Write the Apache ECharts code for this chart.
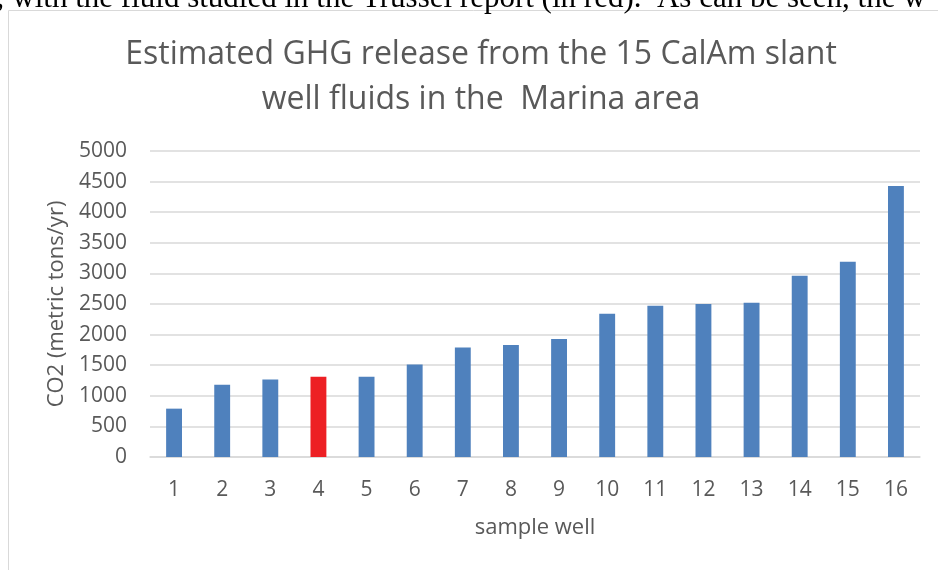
<!DOCTYPE html>
<html>
<head>
<meta charset="utf-8">
<script src="https://cdn.jsdelivr.net/npm/echarts@6/dist/echarts.min.js"></script>
<style>
  html, body { margin: 0; padding: 0; background: #fff; }
  #chart { width: 938px; height: 570px; }
</style>
</head>
<body>
<div id="chart"></div>
<script>
// sample wells and estimated CO2 release (metric tons/yr)
const wells = ["1", "2", "3", "4", "5", "6", "7", "8", "9", "10", "11", "12", "13", "14", "15", "16"];
const co2 = [790, 1180, 1265, 1310, 1310, 1510, 1790, 1830, 1930, 2340, 2470, 2500, 2520, 2960, 3190, 4430];
const highlighted = "4"; // Trussel report fluid, drawn in red

const titleLines = ["Estimated GHG release from the 15 CalAm slant", "well fluids in the  Marina area"];
const docLine = "; with the fluid studied in the Trussel report (in red).  As can be seen, the w";

const gray = "#595959";
const font = "Open Sans";

const chart = echarts.init(document.getElementById("chart"));

const option = {
  animation: false,
  textStyle: { fontFamily: font },
  title: {
    text: titleLines.join("\n"),
    left: 476,
    top: 27,
    textAlign: "center",
    textStyle: { fontFamily: font, fontSize: 32, fontWeight: "normal", color: gray, lineHeight: 45 },
  },
  graphic: [
    {
      type: "rect",
      shape: { x: 8.5, y: 10.5, width: 960, height: 600 },
      style: { fill: "none", stroke: "#d9d9d9", lineWidth: 1 },
      silent: true,
    },
    {
      // tail of the document sentence above the chart, cut by the frame
      type: "text",
      x: -4,
      y: 14,
      style: {
        text: docLine,
        font: "31px 'Liberation Serif'",
        fill: "#000",
        verticalAlign: "bottom",
      },
      silent: true,
    },
  ],
  grid: { left: 150, right: 18, top: 151, bottom: 113 },
  xAxis: {
    type: "category",
    data: wells,
    name: "sample well",
    nameLocation: "middle",
    nameGap: 60,
    nameTextStyle: { fontSize: 22, color: gray, fontFamily: font },
    axisLine: { lineStyle: { color: "#d9d9d9", width: 1.5 } },
    axisTick: { show: false },
    axisLabel: { fontSize: 21, color: gray, margin: 23, fontFamily: font },
  },
  yAxis: {
    type: "value",
    min: 0,
    max: 5000,
    interval: 500,
    name: "CO2 (metric tons/yr)",
    nameLocation: "middle",
    nameGap: 77,
    nameTextStyle: { fontSize: 22, color: gray, fontFamily: font },
    axisLine: { show: false },
    axisTick: { show: false },
    axisLabel: { fontSize: 21, color: gray, margin: 23, fontFamily: font, formatter: (v) => String(v) },
    splitLine: { lineStyle: { color: "#d9d9d9", width: 1.5 } },
  },
  series: [
    {
      type: "bar",
      barWidth: "33%",
      data: co2.map((v, i) => ({
        value: v,
        itemStyle: { color: wells[i] === highlighted ? "#ED2024" : "#4F81BD" },
      })),
    },
  ],
};

chart.setOption(option);
</script>
</body>
</html>
